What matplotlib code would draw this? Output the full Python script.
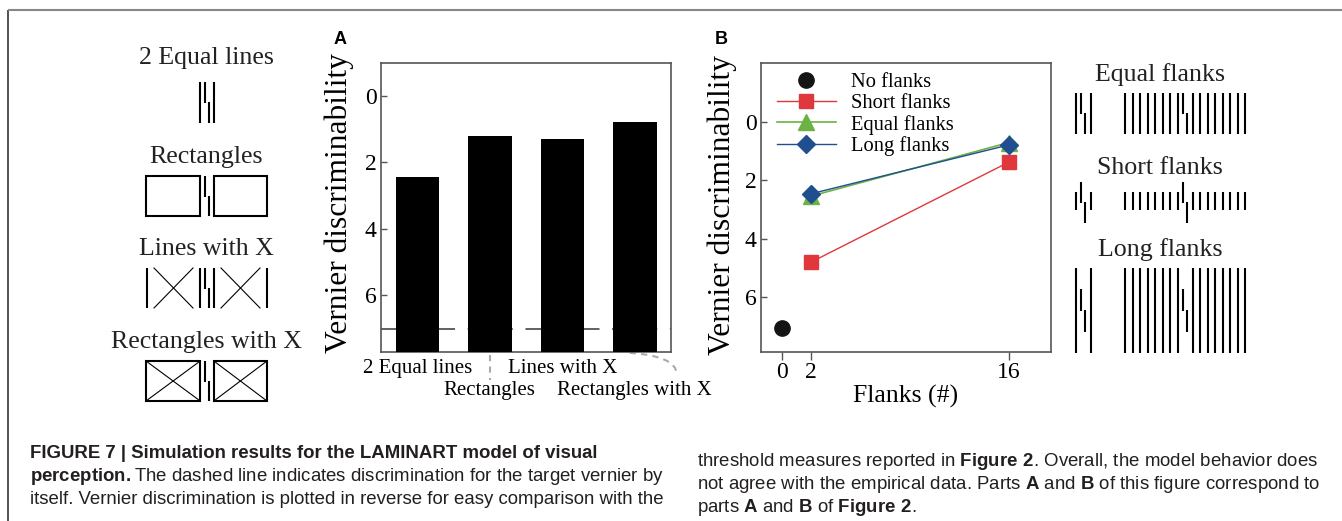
import numpy as np
import matplotlib
matplotlib.use('Agg')
import matplotlib.pyplot as plt
import matplotlib.transforms as mtrans
from matplotlib import font_manager
from matplotlib.path import Path
from matplotlib.patches import PathPatch, Rectangle

# Panel A: model thresholds per flanker configuration
conditions = ['2 Equal lines', 'Rectangles', 'Lines with X', 'Rectangles with X']
thresholds_a = [2.43, 1.21, 1.29, 0.78]
vernier_alone = 7.03

# Panel B: thresholds versus number of flanks
no_flank_x = [0]
no_flank_y = [7.06]
flank_counts = [2, 16]
short_flanks = [4.81, 1.39]
equal_flanks = [2.55, 0.72]
long_flanks = [2.47, 0.80]
b_xticks = [0, 2, 16]
y_ticks = [0, 2, 4, 6]

W, H = 1342, 521
SERIF = 'Liberation Serif'
installed = {f.name for f in font_manager.fontManager.ttflist}
CAP = 'Liberation Sans Narrow' if 'Liberation Sans Narrow' in installed else 'Liberation Sans'
CAP_SIZE = 16.5 if CAP == 'Liberation Sans Narrow' else 13.4

plt.rcParams['font.family'] = SERIF
plt.rcParams['mathtext.fontset'] = 'custom'
plt.rcParams['mathtext.bf'] = CAP + ':bold'
plt.rcParams['mathtext.rm'] = CAP

RED, GREEN, BLUE = '#e0373d', '#6cb245', '#1f4f8f'
SPINE = '#555555'

fig = plt.figure(figsize=(W / 100, H / 100), dpi=100)


def px_axes(l, t, r, b):
    return fig.add_axes([l / W, 1 - b / H, (r - l) / W, (b - t) / H])


# overlay in pixel units for the stimulus sketches, border and caption
ov = fig.add_axes([0, 0, 1, 1])
ov.set_xlim(0, W)
ov.set_ylim(H, 0)
ov.axis('off')

axA = px_axes(381, 63, 671, 352)
axB = px_axes(761, 63, 1051, 352)

for ax in (axA, axB):
    for s in ax.spines.values():
        s.set_color(SPINE)
        s.set_linewidth(1.2)
    ax.set_yticks(y_ticks)
    ax.tick_params(axis='y', direction='in', length=4, width=1, color=SPINE,
                   labelsize=17, pad=3)
    ax.set_ylabel('Vernier discriminability', fontsize=22.7, va='center')

# ---- panel A
x = np.arange(len(conditions))
axA.bar(x, [8.5 - v for v in thresholds_a], bottom=thresholds_a, width=0.6,
        color='black', zorder=3)
axA.axhline(vernier_alone, color='#555555', lw=1.3, dashes=(9, 7), zorder=1)
axA.set_xlim(-0.5, 3.5)
axA.set_ylim(7.72, -1.0)
# staggered category labels: even ones on the first row, odd ones below
axA.set_xticks(x[::2], conditions[::2])
axA.set_xticks(x[1::2], conditions[1::2], minor=True)
axA.tick_params(axis='x', which='major', length=0, labelsize=15, pad=5)
axA.tick_params(axis='x', which='minor', length=0, labelsize=15, pad=21)
axA.yaxis.set_label_coords(-0.145, 0.515)

# leader lines for the staggered labels
bt = mtrans.blended_transform_factory(axA.transData, axA.transAxes)
axA.plot([1, 1], [-0.01, -0.097], transform=bt, clip_on=False,
         color='#aaaaaa', lw=1.5, dashes=(3, 2.5))
curve = Path([(2.93, -0.003), (3.57, -0.014), (3.58, -0.076)],
             [Path.MOVETO, Path.CURVE3, Path.CURVE3])
axA.add_patch(PathPatch(curve, transform=bt, clip_on=False, fill=False,
                        edgecolor='#aaaaaa', lw=1.5, linestyle=(0, (3, 2.5))))

# ---- panel B
axB.plot(no_flank_x, no_flank_y, 'o', color='#151515', ms=11, ls='none',
         label='No flanks', clip_on=False)
axB.plot(flank_counts, short_flanks, '-s', color=RED, ms=10, lw=1,
         label='Short flanks')
axB.plot(flank_counts, equal_flanks, '-^', color=GREEN, ms=11, lw=1.2,
         label='Equal flanks')
axB.plot(flank_counts, long_flanks, '-D', color=BLUE, ms=9.5, lw=1,
         label='Long flanks')
axB.set_xlim(-1.5, 19)
axB.set_ylim(7.87, -2)
axB.set_xticks(b_xticks)
axB.tick_params(axis='x', direction='out', length=6, width=1, color=SPINE,
                labelsize=17, pad=1.5)
axB.set_xlabel('Flanks (#)', fontsize=18.5, labelpad=1)
axB.yaxis.set_label_coords(-0.134, 0.51)
axB.legend(loc='upper left', bbox_to_anchor=(0.055, 0.967), frameon=False,
           fontsize=14.8, handlelength=2.85, handletextpad=0.75,
           labelspacing=0.08, borderpad=0, borderaxespad=0)

# panel letters
ov.text(340, 39, 'A', family='Liberation Sans', weight='bold', fontsize=13,
        ha='center', va='center')
ov.text(721, 39, 'B', family='Liberation Sans', weight='bold', fontsize=13,
        ha='center', va='center')

# ---- figure frame
ov.plot([8, 8], [10, H], color='#333333', lw=1.2, solid_capstyle='butt')
ov.plot([8, W], [10, 10], color='#888888', lw=1.5, solid_capstyle='butt')

# ---- stimulus sketches
LW = 1.5


def vline(x0, y0, y1, lw=LW):
    ov.plot([x0, x0], [y0, y1], color='black', lw=lw, solid_capstyle='butt')


def vernier(xc, y0, y1, off=1.6):
    ym = (y0 + y1) / 2
    vline(xc - off, y0, ym + 0.5)
    vline(xc + off, ym - 0.5, y1)


def cross(x0, x1, y0, y1):
    ov.plot([x0, x1], [y0, y1], color='black', lw=0.8)
    ov.plot([x0, x1], [y1, y0], color='black', lw=0.8)


left_labels = ['2 Equal lines', 'Rectangles', 'Lines with X', 'Rectangles with X']
label_y = [58, 157, 249, 342]
for lab, ly in zip(left_labels, label_y):
    ov.text(206, ly, lab, fontsize=18.6, ha='center', va='center', color='#222222')

cx = 207
# 2 equal lines
vline(cx - 6.8, 82, 123)
vline(cx + 6.8, 82, 123)
vernier(cx, 82, 123)
# rectangles
for (a, b) in [(146, cx - 6.8), (cx + 6.8, 267)]:
    ov.add_patch(Rectangle((a, 176), b - a, 40, fill=False, lw=LW, ec='black'))
vernier(cx, 176, 216)
# lines with X
for xx in (147, cx - 6.8, cx + 6.8, 267):
    vline(xx, 268, 308)
cross(154, 193, 268, 308)
cross(221, 260, 268, 308)
vernier(cx, 268, 308)
# rectangles with X
for (a, b) in [(146, cx - 6.8), (cx + 6.8, 267)]:
    ov.add_patch(Rectangle((a, 361), b - a, 40, fill=False, lw=LW, ec='black'))
    cross(a, b, 361, 401)
vernier(cx, 361, 401)

# flank configurations on the right
right_labels = ['Equal flanks', 'Short flanks', 'Long flanks']
right_label_y = [75, 168, 250]
for lab, ly in zip(right_labels, right_label_y):
    ov.text(1160, ly, lab, fontsize=18.6, ha='center', va='center', color='#222222')

rows = [((93, 134), (93, 134)), ((192, 210), (182, 223)), ((268, 353), (289, 332))]
for (fy0, fy1), (vy0, vy1) in rows:
    vc = 1083
    vline(vc - 7.5, fy0, fy1)
    vline(vc + 7.5, fy0, fy1)
    vernier(vc, vy0, vy1)
    vc = 1185
    for k in range(1, 9):
        vline(vc - 7.5 * k, fy0, fy1)
        vline(vc + 7.5 * k, fy0, fy1)
    vernier(vc, vy0, vy1)

# ---- caption
CAPC = '#231f20'
left_lines = [
    'FIGURE 7 | Simulation results for the LAMINART model of visual',
    r'$\mathbf{perception.}$The dashed line indicates discrimination for the target vernier by',
    'itself. Vernier discrimination is plotted in reverse for easy comparison with the',
]
right_lines = [
    r'threshold measures reported in $\mathbf{Figure\ 2}$. Overall, the model behavior does',
    r'not agree with the empirical data. Parts $\mathbf{A}$ and $\mathbf{B}$ of this figure correspond to',
    r'parts $\mathbf{A}$ and $\mathbf{B}$ of $\mathbf{Figure\ 2}$.',
]
for i, line in enumerate(left_lines):
    ov.text(30, 458 + 23 * i, line, family=CAP, fontsize=CAP_SIZE, color=CAPC,
            weight='bold' if i == 0 else 'normal', va='baseline', ha='left')
for i, line in enumerate(right_lines):
    ov.text(697, 466 + 23 * i, line, family=CAP, fontsize=CAP_SIZE, color=CAPC,
            va='baseline', ha='left')

fig.savefig('out.png', dpi=100)
